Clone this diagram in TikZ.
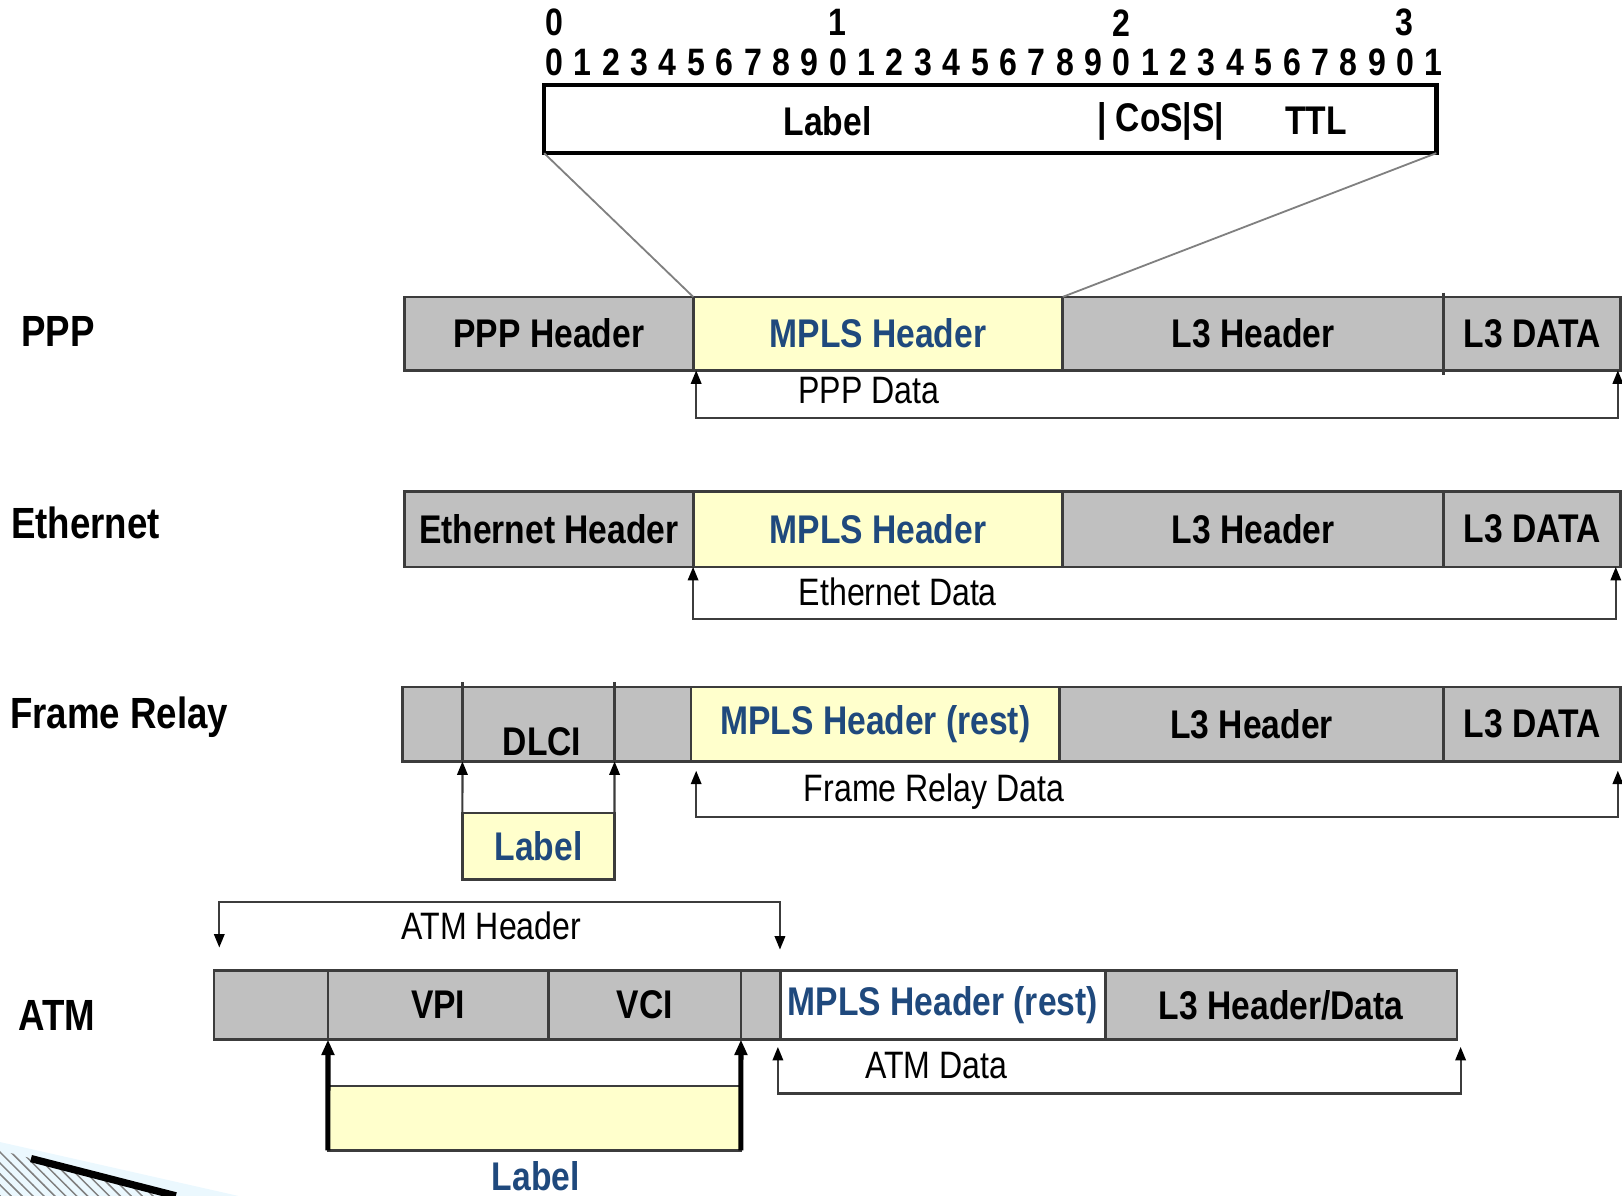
\documentclass[tikz,border=0pt]{standalone}
\usepackage{fontspec}
\setmainfont{Liberation Sans}[FakeStretch=0.84]
\usepackage{tikz}
\usetikzlibrary{arrows.meta}
\usetikzlibrary{patterns}
\definecolor{cellgray}{RGB}{192,192,192}
\definecolor{cellyellow}{RGB}{255,255,204}
\definecolor{mplsblue}{RGB}{31,73,125}
\definecolor{edgegray}{RGB}{60,60,60}

\begin{document}
\begin{tikzpicture}[x=0.01cm,y=-0.01cm,
	cell/.style={draw=edgegray,line width=0.7pt,fill=cellgray,anchor=west,inner sep=0pt,outer sep=0pt,
	             font=\fontsize{11}{13}\selectfont\bfseries},
	mpls/.style={cell,fill=cellyellow,text=mplsblue},
	proto/.style={anchor=west,inner sep=0pt,font=\fontsize{12}{14}\selectfont\bfseries},
	digit/.style={inner sep=0pt,font=\fontsize{10.5}{12}\selectfont\bfseries},
	datatext/.style={inner sep=0pt,font=\fontsize{10.5}{12}\selectfont},
	bracket/.style={draw=edgegray,line width=0.6pt,{Triangle[length=1.3mm,width=1mm,black]}-{Triangle[length=1.3mm,width=1mm,black]}},
	uparr/.style={draw=edgegray,line width=0.6pt,-{Triangle[length=1.3mm,width=1mm,black]}},
	boldarr/.style={draw=black,line width=1.4pt,-{Triangle[length=1.5mm,width=1.2mm]}}]
	\useasboundingbox (0,0) rectangle (1568,1156);

	% bit ruler and the label entry
	\foreach \t/\x in {0/536,1/810,2/1084,3/1358}
		\node[digit] (t\t) at (\x,22) {\t};
	\foreach \i in {0,...,31}{
		\pgfmathtruncatemacro{\d}{mod(\i,10)}
		\node[digit] (b\i) at (536+27.42*\i,60) {\d};
	}
	\node[draw,line width=1.2pt,outer sep=0pt,anchor=north west,minimum width=8.62cm,minimum height=0.66cm] (entry) at (526,82) {};
	\begin{scope}[every node/.style={inner sep=0pt,font=\fontsize{11}{13}\selectfont\bfseries}]
		\node (eLabel) at (800,117) {Label};
		\node (eCos) at (1122,117) {| CoS|S|};
		\node (eTtl) at (1272,117) {TTL};
	\end{scope}

	% PPP
	\begin{scope}[cell/.append style={minimum height=0.71cm}]
		\node[proto] (pppT) at (20,320) {PPP};
		\node[cell,minimum width=2.79cm] (pppH) at (391,322.5) {PPP Header};
		\node[mpls,minimum width=3.57cm] (pppM) at (pppH.east) {MPLS Header};
		\node[cell,minimum width=3.68cm] (pppL) at (pppM.east) {L3 Header};
		\node[cell,minimum width=1.71cm] (pppD) at (pppL.east) {L3 DATA};
	\end{scope}
	\draw[edgegray,line width=0.7pt] ([yshift=1.2pt]pppD.north west) -- ([yshift=-1.2pt]pppD.south west);
	\draw[gray,line width=0.5pt] (entry.south west) -- (pppM.north west);
	\draw[gray,line width=0.5pt] (entry.south east) -- (pppM.north east);
	\coordinate (pppA) at (673,404);
	\coordinate (pppB) at (1564,404);
	\path[bracket] (pppA |- pppM.south) -- (pppA) -- (pppB) -- (pppB |- pppD.south);
	\node[datatext] (pppData) at (840,378) {PPP Data};

	% Ethernet
	\begin{scope}[cell/.append style={minimum height=0.73cm}]
		\node[proto] (ethT) at (10,505) {Ethernet};
		\node[cell,minimum width=2.79cm] (ethH) at (391,511.5) {Ethernet Header};
		\node[mpls,minimum width=3.57cm] (ethM) at (ethH.east) {MPLS Header};
		\node[cell,minimum width=3.68cm] (ethL) at (ethM.east) {L3 Header};
		\node[cell,minimum width=1.71cm] (ethD) at (ethL.east) {L3 DATA};
	\end{scope}
	\coordinate (ethA) at (670,598);
	\coordinate (ethB) at (1562,598);
	\path[bracket] (ethA |- ethM.south) -- (ethA) -- (ethB) -- (ethB |- ethD.south);
	\node[datatext] (ethData) at (868,572) {Ethernet Data};

	% Frame Relay
	\begin{scope}[cell/.append style={minimum height=0.72cm}]
		\node[proto] (frT) at (9,693) {Frame Relay};
		\node[cell,minimum width=0.58cm] (frF) at (389,700) {};
		\node[cell,minimum width=1.47cm] (frDl) at (frF.east) {};
		\node[cell,minimum width=0.74cm] (frG) at (frDl.east) {};
		\node[mpls,minimum width=3.56cm] (frM) at (frG.east) {MPLS Header (rest)};
		\node[cell,minimum width=3.71cm] (frL) at (frM.east) {L3 Header};
		\node[cell,minimum width=1.71cm] (frD) at (frL.east) {L3 DATA};
	\end{scope}
	\node[inner sep=0pt,font=\fontsize{11}{13}\selectfont\bfseries] (frDlci) at (524,717) {DLCI};
	\draw[edgegray,line width=0.7pt] (frDl.north west) -- ++(0,-5);
	\draw[edgegray,line width=0.7pt] (frDl.north east) -- ++(0,-5);
	\node[mpls,anchor=north west,minimum width=1.47cm,minimum height=0.64cm] (frLab) at (447,786) {Label};
	\path[uparr] (frLab.north west) -- (frDl.south west);
	\path[uparr] (frLab.north east) -- (frDl.south east);
	\coordinate (frA) at (673,790);
	\coordinate (frB) at (1564,790);
	\coordinate (frA1) at (673,745);
	\coordinate (frB1) at (1564,745);
	\path[bracket] (frA1) -- (frA) -- (frB) -- (frB1);
	\node[datatext] (frData) at (903,765) {Frame Relay Data};

	% ATM
	\coordinate (atmE1) at (212,916);
	\coordinate (atmH1) at (212,872);
	\coordinate (atmH2) at (754,872);
	\coordinate (atmE2) at (754,918);
	\path[bracket] (atmE1) -- (atmH1) -- (atmH2) -- (atmE2);
	\node[datatext] (atmHdr) at (475,895) {ATM Header};
	\begin{scope}[cell/.append style={minimum height=0.67cm}]
		\node[proto] (atmT) at (17,982) {ATM};
		\node[cell,minimum width=1.10cm] (atmF) at (207,971.5) {};
		\node[cell,minimum width=2.13cm] (atmVpi) at (atmF.east) {VPI};
		\node[cell,minimum width=1.86cm] (atmVci) at (atmVpi.east) {VCI};
		\node[cell,minimum width=0.38cm] (atmG) at (atmVci.east) {};
		\node[mpls,fill=white,minimum width=3.14cm] (atmM) at (atmG.east) {MPLS Header (rest)};
		\node[cell,minimum width=3.40cm] (atmL) at (atmM.east) {L3 Header/Data};
	\end{scope}
	\node[draw=edgegray,line width=0.7pt,fill=cellyellow,outer sep=0pt,anchor=north west,minimum width=3.99cm,minimum height=0.62cm] (atmLab) at (317,1050) {};
	\path[boldarr] (atmLab.south west) -- (atmVpi.south west);
	\path[boldarr] (atmLab.south east) -- (atmVci.south east);
	\node[inner sep=0pt,text=mplsblue,font=\fontsize{11}{13}\selectfont\bfseries] (atmLabT) at (518,1137) {Label};
	\coordinate (atmA) at (752,1057);
	\coordinate (atmB) at (1412,1057);
	\coordinate (atmA1) at (752,1012);
	\coordinate (atmB1) at (1412,1012);
	\path[bracket] (atmA1) -- (atmA) -- (atmB) -- (atmB1);
	\node[datatext] (atmData) at (905,1030) {ATM Data};

	% slide bullet corner
	\fill[cyan!8] (0,1104) -- (230,1156) -- (0,1156) -- cycle;
	\fill[pattern=north west lines,pattern color=gray] (0,1112) -- (170,1156) -- (0,1156) -- cycle;
	\draw[line width=2pt] (30,1120) -- (170,1156);
\end{tikzpicture}
\end{document}
